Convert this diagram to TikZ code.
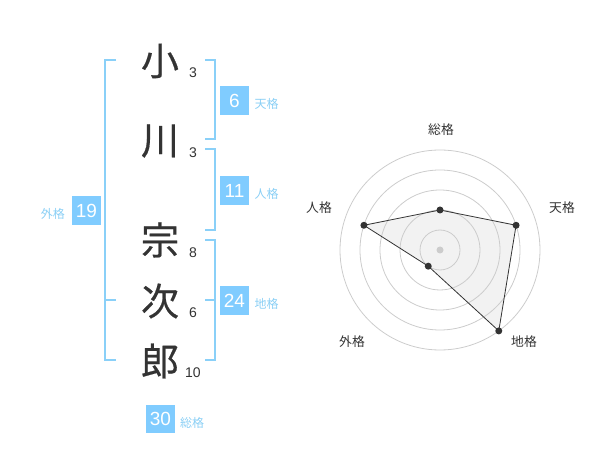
\documentclass[tikz,border=0pt]{standalone}
\usepackage{fontspec}
\usetikzlibrary{positioning}
\setmainfont{Liberation Sans}
\newfontfamily\jpfont{Noto Sans CJK JP}
\newfontfamily\kanjifont{Noto Sans CJK JP}[FakeBold=0.5]
\definecolor{skyblue}{HTML}{80CCFF}
\definecolor{lineblue}{HTML}{8AD0F8}
\definecolor{textblue}{HTML}{8ACFF5}
\definecolor{inkgray}{HTML}{333333}
\definecolor{ringgray}{HTML}{CCCCCC}
\definecolor{areagray}{HTML}{F2F2F2}

\begin{document}
\begin{tikzpicture}[x=1pt, y=-1pt,
    kanji/.style={font=\kanjifont\fontsize{38}{38}\selectfont, text=inkgray, inner sep=0pt},
    strokes/.style={font=\fontsize{14}{14}\selectfont, text=inkgray, inner sep=0pt},
    score/.style={fill=skyblue, text=white, minimum size=28.5pt, inner sep=0pt, font=\fontsize{19}{19}\selectfont},
    kaku/.style={font=\jpfont\fontsize{12}{12}\selectfont, text=textblue, inner sep=0pt, yshift=-3.5pt},
    axis/.style={font=\jpfont\fontsize{12.8}{12.8}\selectfont, text=inkgray, inner sep=0pt},
    bracket/.style={draw=lineblue, line width=2pt}]
    \useasboundingbox (0,0) rectangle (600,470);

    \node[kanji] (k1) at (160, 61) {小};
    \node[kanji] (k2) at (160, 141) {川};
    \node[kanji] (k3) at (160, 240) {宗};
    \node[kanji] (k4) at (160, 301) {次};
    \node[kanji] (k5) at (160, 361) {郎};

    \node[strokes] (s1) at (193, 73) {3};
    \node[strokes] (s2) at (193, 153) {3};
    \node[strokes] (s3) at (193, 253) {8};
    \node[strokes] (s4) at (193, 313) {6};
    \node[strokes] (s5) at (193, 373) {10};

    % brackets
    \draw[bracket] (116, 60) -- (105, 60) -- (105, 360) -- (116, 360);
    \draw[bracket] (105, 300) -- (116, 300);
    \draw[bracket] (205, 60) -- (215, 60) -- (215, 139) -- (205, 139);
    \draw[bracket] (205, 149) -- (215, 149) -- (215, 230) -- (205, 230);
    \draw[bracket] (205, 240) -- (215, 240) -- (215, 360) -- (205, 360);
    \draw[bracket] (205, 300) -- (215, 300);

    \node[score] (ten) at (234.5, 100.5) {6};
    \node[kaku, right=5.5pt of ten] {天格};
    \node[score] (jin) at (234.5, 190.5) {11};
    \node[kaku, right=5.5pt of jin] {人格};
    \node[score] (chi) at (234.5, 300.5) {24};
    \node[kaku, right=5.5pt of chi] {地格};
    \node[score] (gai) at (86.5, 210.5) {19};
    \node[kaku, left=7pt of gai] {外格};
    \node[score] (sou) at (160.5, 419) {30};
    \node[kaku, right=5pt of sou] {総格};

    % radar
    \begin{scope}[shift={(440, 250)}, yscale=-1]
      \foreach \a/\v/\n in {90/2/sou, 18/4/ten, -54/5/chi, -126/1/gai, 162/4/jin}
        \coordinate (p-\n) at (\a:\v*20);
      \fill[areagray] (p-sou) -- (p-ten) -- (p-chi) -- (p-gai) -- (p-jin) -- cycle;
      \foreach \r in {20, 40, ..., 100}
        \draw[ringgray, line width=0.8pt] (0, 0) circle (\r);
      \fill[ringgray] (0, 0) circle (3.5);
      \draw[inkgray, line width=0.8pt] (p-sou) -- (p-ten) -- (p-chi) -- (p-gai) -- (p-jin) -- cycle;
      \foreach \n in {sou, ten, chi, gai, jin}
        \fill[inkgray] (p-\n) circle (3.5);

      \node[axis] (a-sou) at (1, 120) {総格};
      \node[axis] (a-ten) at (122, 42) {天格};
      \node[axis] (a-chi) at (84, -92) {地格};
      \node[axis] (a-gai) at (-88, -92) {外格};
      \node[axis] (a-jin) at (-121, 42) {人格};
    \end{scope}
  \end{tikzpicture}
\end{document}
